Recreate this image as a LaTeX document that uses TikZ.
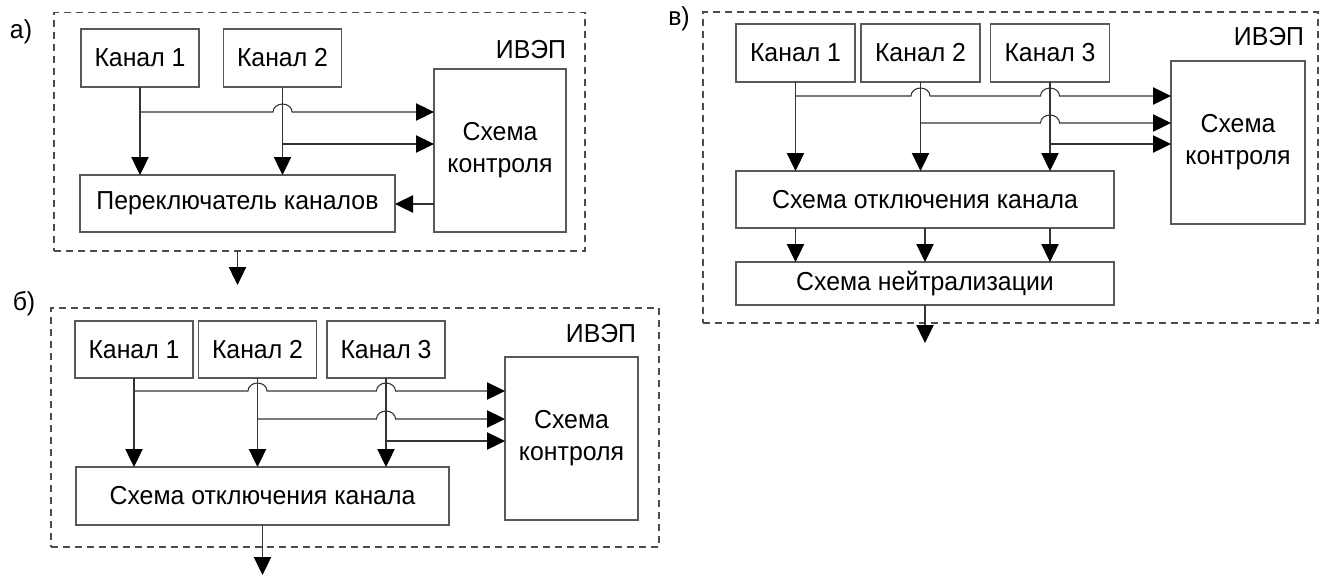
\documentclass[tikz,border=0pt]{standalone}
\usepackage{fontspec}
\setmainfont{Liberation Sans}[FakeStretch=0.955]
\usetikzlibrary{arrows.meta,calc}
\begin{document}
\begin{tikzpicture}[x=0.75pt,y=-0.75pt,
  every node/.style={font=\fontsize{19.5pt}{24pt}\selectfont, text=black},
  box/.style={draw=black!65, line width=0.8pt, inner sep=0pt, outer sep=0pt,
    minimum width=88.5pt, minimum height=43.5pt, align=center},
  frame/.style={draw=black!70, line width=0.8pt, dash pattern=on 5.25pt off 3.75pt,
    inner sep=0pt, outer sep=0pt},
  lbl/.style={inner sep=0pt, outer sep=0pt},
  conn/.style={draw=black!80, line width=0.8pt},
  arr/.style={conn, -{Triangle[length=13.5pt,width=13pt,color=black]}}]
\useasboundingbox (0,0) rectangle (1320,576);

% ---------- a) two channels with a switch ----------
\node[frame, minimum width=398.25pt, minimum height=178.875pt] (fa) at (319.5,131.75) {};
\node[lbl] (alab) at (21,32) {а)};
\node[lbl, anchor=east] (apsu) at (566,50) {ИВЭП};
\node[box] (a1) at (140,58) {Канал 1};
\node[box] (a2) at (282.5,58) {Канал 2};
\node[box, minimum width=99pt, minimum height=122.25pt] (actl) at (500,150.5) {Схема\\контроля};
\node[box, minimum width=236.25pt, minimum height=42.75pt] (asw) at (237.5,203.5) {Переключатель каналов};

\draw[arr] (a1.south) -- (a1.south |- asw.north);
\draw[arr] (a2.south) -- (a2.south |- asw.north);
\draw[arr] (a1.south |- 0,112) -- (273,112)
  arc[start angle=180, end angle=0, x radius=7.125pt, y radius=6pt]
  -- (actl.west |- 0,112);
\draw[arr] (a2.south |- 0,144) -- (actl.west |- 0,144);
\draw[arr] (actl.west |- 0,204) -- (asw.east |- 0,204);
\coordinate (aend) at (237.5,285);
\draw[arr] (asw.south |- fa.south) -- (aend);

% ---------- b) three channels with disconnection ----------
\node[frame, minimum width=456pt, minimum height=179.25pt] (fb) at (355,427.5) {};
\node[lbl] (blab) at (24,304) {б)};
\node[lbl, anchor=east] (bpsu) at (636,334) {ИВЭП};
\node[box, minimum height=42.75pt] (b1) at (134,349.5) {Канал 1};
\node[box, minimum height=42.75pt] (b2) at (257.5,349.5) {Канал 2};
\node[box, minimum height=42.75pt] (b3) at (386,349.5) {Канал 3};
\node[box, minimum width=99.75pt, minimum height=122.25pt] (bctl) at (571.5,438.5) {Схема\\контроля};
\node[box, minimum width=279.75pt, minimum height=43.5pt] (boff) at (262.5,496) {Схема отключения канала};

\draw[arr] (b1.south) -- (b1.south |- boff.north);
\draw[arr] (b2.south) -- (b2.south |- boff.north);
\draw[arr] (b3.south) -- (b3.south |- boff.north);
\draw[arr] (b1.south |- 0,391) -- (248,391)
  arc[start angle=180, end angle=0, x radius=7.125pt, y radius=6pt]
  -- (376.5,391)
  arc[start angle=180, end angle=0, x radius=7.125pt, y radius=6pt]
  -- (bctl.west |- 0,391);
\draw[arr] (b2.south |- 0,419) -- (376.5,419)
  arc[start angle=180, end angle=0, x radius=7.125pt, y radius=6pt]
  -- (bctl.west |- 0,419);
\draw[arr] (b3.south |- 0,441) -- (bctl.west |- 0,441);
\coordinate (bend) at (262.5,575);
\draw[arr] (boff.south) -- (bend);

% ---------- c) three channels with disconnection and neutralisation ----------
\node[frame, minimum width=461.25pt, minimum height=233.25pt] (fc) at (1010.5,167.5) {};
\node[lbl] (clab) at (679,19) {в)};
\node[lbl, anchor=east] (cpsu) at (1304,37) {ИВЭП};
\node[box, minimum width=89.25pt] (c1) at (795.5,53) {Канал 1};
\node[box, minimum width=89.25pt] (c2) at (920.5,53) {Канал 2};
\node[box, minimum width=89.25pt] (c3) at (1050,53) {Канал 3};
\node[box, minimum width=100.5pt, minimum height=122.25pt] (cctl) at (1238,142.5) {Схема\\контроля};
\node[box, minimum width=283.5pt, minimum height=42.75pt] (coff) at (925,199.5) {Схема отключения канала};
\node[box, minimum width=283.5pt, minimum height=32.25pt] (cneu) at (925,283.5) {Схема нейтрализации};

\draw[arr] (c1.south) -- (c1.south |- coff.north);
\draw[arr] (c2.south) -- (c2.south |- coff.north);
\draw[arr] (c3.south) -- (c3.south |- coff.north);
\draw[arr] (c1.south |- 0,96) -- (911,96)
  arc[start angle=180, end angle=0, x radius=7.125pt, y radius=6pt]
  -- (1040.5,96)
  arc[start angle=180, end angle=0, x radius=7.125pt, y radius=6pt]
  -- (cctl.west |- 0,96);
\draw[arr] (c2.south |- 0,123) -- (1040.5,123)
  arc[start angle=180, end angle=0, x radius=7.125pt, y radius=6pt]
  -- (cctl.west |- 0,123);
\draw[arr] (c3.south |- 0,144) -- (cctl.west |- 0,144);
\draw[arr] (c1.south |- coff.south) -- (c1.south |- cneu.north);
\draw[arr] (coff.south) -- (cneu.north);
\draw[arr] (c3.south |- coff.south) -- (c3.south |- cneu.north);
\coordinate (cend) at (925,343);
\draw[arr] (cneu.south) -- (cend);
\end{tikzpicture}
\end{document}
